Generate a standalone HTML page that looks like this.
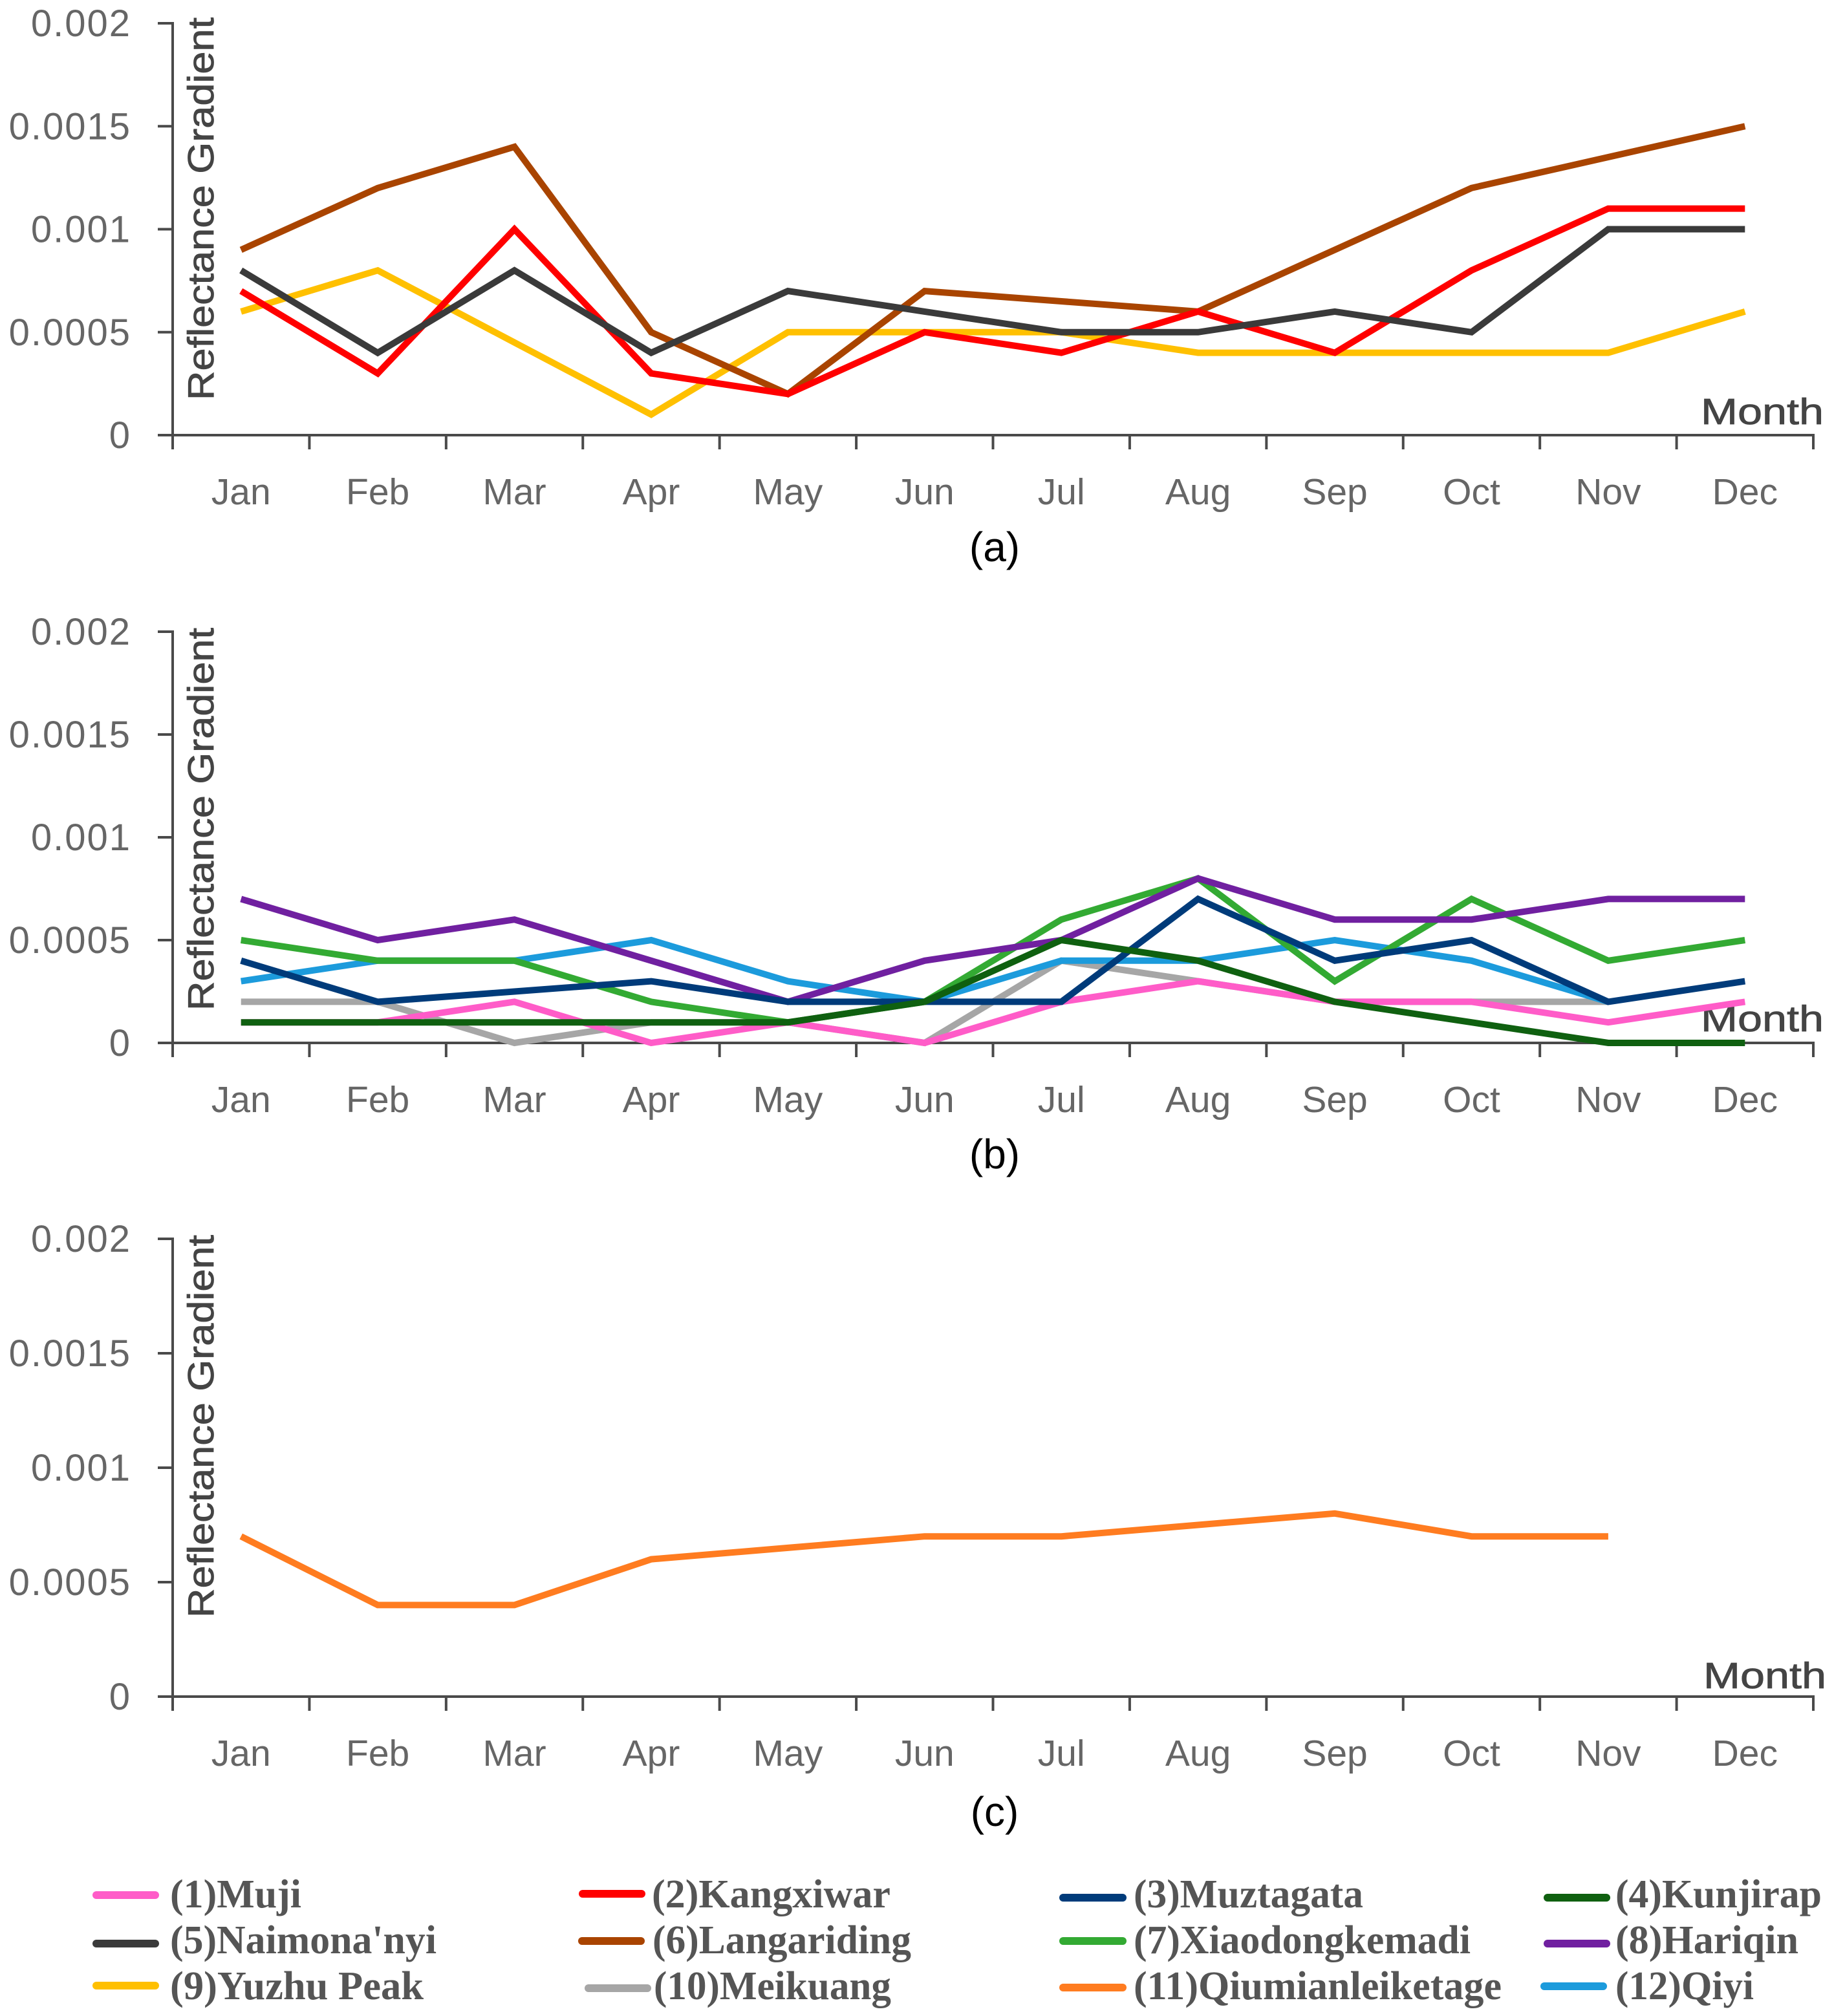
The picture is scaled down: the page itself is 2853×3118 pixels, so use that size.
<!DOCTYPE html>
<html lang="en">
<head>
<meta charset="utf-8">
<title>Monthly reflectance gradient</title>
<style>
html,body{margin:0;padding:0;background:#fff;}
svg{display:block;}
text{font-family:"Liberation Sans",sans-serif;}
.tick-label{font-size:58px;fill:#666;letter-spacing:2px;}
.cat-label{font-size:57px;fill:#666;text-anchor:middle;}
.axis-title{font-size:57px;fill:#444;stroke:#444;stroke-width:0.8;}
.caption{font-size:64px;fill:#000;text-anchor:middle;}
.axis{stroke:#4a4a4a;stroke-width:4;fill:none;}
.series{fill:none;stroke-width:10;stroke-linejoin:miter;stroke-linecap:butt;}
.legend-text{font-family:"Liberation Serif",serif;font-weight:bold;font-size:62px;fill:#555;}
.swatch{stroke-width:12;stroke-linecap:round;fill:none;}
.muji{stroke:#FF5CC8;}.kangxiwar{stroke:#FF0000;}.muztagata{stroke:#003B7A;}.kunjirap{stroke:#0F6010;}
.naimonanyi{stroke:#3A3A3A;}.langariding{stroke:#A94400;}.xiaodongkemadi{stroke:#33AA33;}.hariqin{stroke:#7020A0;}
.yuzhu{stroke:#FFC000;}.meikuang{stroke:#A6A6A6;}.qiumianleiketage{stroke:#FF7C20;}.qiyi{stroke:#1C9BDC;}
</style>
</head>
<body>
<svg id="chart" xmlns="http://www.w3.org/2000/svg" width="2853" height="3118" viewBox="0 0 2853 3118">
  <g>
    <g><line class="swatch muji" x1="149" x2="240" y1="2931" y2="2931"/><text class="legend-text" x="263" y="2950" textLength="203" lengthAdjust="spacingAndGlyphs">(1)Muji</text></g>
    <g><line class="swatch kangxiwar" x1="901" x2="992" y1="2929" y2="2929"/><text class="legend-text" x="1008" y="2950" textLength="369" lengthAdjust="spacingAndGlyphs">(2)Kangxiwar</text></g>
    <g><line class="swatch muztagata" x1="1644" x2="1736" y1="2935" y2="2935"/><text class="legend-text" x="1753" y="2950" textLength="355" lengthAdjust="spacingAndGlyphs">(3)Muztagata</text></g>
    <g><line class="swatch kunjirap" x1="2393" x2="2484" y1="2935" y2="2935"/><text class="legend-text" x="2498" y="2950" textLength="319" lengthAdjust="spacingAndGlyphs">(4)Kunjirap</text></g>

    <g><line class="swatch naimonanyi" x1="149" x2="240" y1="3006" y2="3006"/><text class="legend-text" x="263" y="3021" textLength="412" lengthAdjust="spacingAndGlyphs">(5)Naimona'nyi</text></g>
    <g><line class="swatch langariding" x1="900" x2="991" y1="3002" y2="3002"/><text class="legend-text" x="1009" y="3021" textLength="400" lengthAdjust="spacingAndGlyphs">(6)Langariding</text></g>
    <g><line class="swatch xiaodongkemadi" x1="1644" x2="1736" y1="3002" y2="3002"/><text class="legend-text" x="1753" y="3021" textLength="521" lengthAdjust="spacingAndGlyphs">(7)Xiaodongkemadi</text></g>
    <g><line class="swatch hariqin" x1="2393" x2="2484" y1="3006" y2="3006"/><text class="legend-text" x="2498" y="3021" textLength="283" lengthAdjust="spacingAndGlyphs">(8)Hariqin</text></g>

    <g><line class="swatch yuzhu" x1="149" x2="240" y1="3071" y2="3071"/><text class="legend-text" x="263" y="3092" textLength="392" lengthAdjust="spacingAndGlyphs">(9)Yuzhu Peak</text></g>
    <g><line class="swatch meikuang" x1="910" x2="1001" y1="3075" y2="3075"/><text class="legend-text" x="1011" y="3092" textLength="367" lengthAdjust="spacingAndGlyphs">(10)Meikuang</text></g>
    <g><line class="swatch qiumianleiketage" x1="1644" x2="1736" y1="3074" y2="3074"/><text class="legend-text" x="1753" y="3092" textLength="569" lengthAdjust="spacingAndGlyphs">(11)Qiumianleiketage</text></g>
    <g><line class="swatch qiyi" x1="2388" x2="2479" y1="3072" y2="3072"/><text class="legend-text" x="2498" y="3092" textLength="214" lengthAdjust="spacingAndGlyphs">(12)Qiyi</text></g>
  </g>
</svg>
<script>
const months = ['Jan','Feb','Mar','Apr','May','Jun','Jul','Aug','Sep','Oct','Nov','Dec'];
const yTicks = [0, 0.0005, 0.001, 0.0015, 0.002];
const yTickLabels = ['0', '0.0005', '0.001', '0.0015', '0.002'];
const yMax = 0.002;

// Panel (a)
const kangxiwar = [0.0007,0.0003,0.001,0.0003,0.0002,0.0005,0.0004,0.0006,0.0004,0.0008,0.0011,0.0011];
const naimonanyi = [0.0008,0.0004,0.0008,0.0004,0.0007,0.0006,0.0005,0.0005,0.0006,0.0005,0.001,0.001];
const langariding = [0.0009,0.0012,0.0014,0.0005,0.0002,0.0007,0.00065,0.0006,0.0009,0.0012,0.00135,0.0015];
const yuzhu = [0.0006,0.0008,0.00045,0.0001,0.0005,0.0005,0.0005,0.0004,0.0004,0.0004,0.0004,0.0006];

// Panel (b)
const meikuang = [0.0002,0.0002,0,0.0001,0.0001,0,0.0004,0.0003,0.0002,0.0002,0.0002,null];
const qiyi = [0.0003,0.0004,0.0004,0.0005,0.0003,0.0002,0.0004,0.0004,0.0005,0.0004,0.0002,null];
const muji = [0.0001,0.0001,0.0002,0,0.0001,0,0.0002,0.0003,0.0002,0.0002,0.0001,0.0002];
const xiaodongkemadi = [0.0005,0.0004,0.0004,0.0002,0.0001,0.0002,0.0006,0.0008,0.0003,0.0007,0.0004,0.0005];
const hariqin = [0.0007,0.0005,0.0006,0.0004,0.0002,0.0004,0.0005,0.0008,0.0006,0.0006,0.0007,0.0007];
const muztagata = [0.0004,0.0002,0.00025,0.0003,0.0002,0.0002,0.0002,0.0007,0.0004,0.0005,0.0002,0.0003];
const kunjirap = [0.0001,0.0001,0.0001,0.0001,0.0001,0.0002,0.0005,0.0004,0.0002,0.0001,0,0];

// Panel (c)
const qiumianleiketage = [0.0007,0.0004,0.0004,0.0006,0.00065,0.0007,0.0007,0.00075,0.0008,0.0007,0.0007,null];

const NS = 'http://www.w3.org/2000/svg';
const svg = document.getElementById('chart');
const plotLeft = 267;
const plotRight = 2804;

function xCat(i) { return plotLeft + (i + 0.5) * (plotRight - plotLeft) / months.length; }
function xEdge(i) { return plotLeft + i * (plotRight - plotLeft) / months.length; }

function el(tag, attrs, parent) {
  const node = document.createElementNS(NS, tag);
  for (const k in attrs) node.setAttribute(k, attrs[k]);
  parent.appendChild(node);
  return node;
}

function drawPanel(id, top, bottom, captionText, captionY, titleCenter, monthX, monthY) {
  const yScale = v => bottom - (v / yMax) * (bottom - top);
  const g = el('g', {}, svg);
  
  

  yTicks.forEach((t, i) => {
    const y = yScale(t);
    const tick = el('line', {class:'axis', x1:244, x2:plotLeft, y1:y, y2:y}, g);
    
    
    const lab = el('text', {class:'tick-label', x:203, y:y + 20, 'text-anchor':'end'}, g);
    lab.textContent = yTickLabels[i];
    
    
  });

  const yAxis = el('line', {class:'axis', x1:plotLeft, x2:plotLeft, y1:top - 2, y2:bottom + 22}, g);
  
  
  const xAxis = el('line', {class:'axis', x1:plotLeft, x2:plotRight + 2, y1:bottom, y2:bottom}, g);
  
  

  for (let i = 1; i <= months.length; i++) {
    const tick = el('line', {class:'axis', x1:xEdge(i), x2:xEdge(i), y1:bottom, y2:bottom + 22}, g);
    
    
  }
  months.forEach((m, i) => {
    const lab = el('text', {class:'cat-label', x:xCat(i), y:bottom + 107}, g);
    lab.textContent = m;
    
    
  });

  const yTitle = el('text', {class:'axis-title', x:0, y:0, 'text-anchor':'middle', textLength:592, lengthAdjust:'spacingAndGlyphs', transform:'translate(330 ' + titleCenter + ') rotate(-90)'}, g);
  yTitle.textContent = 'Reflectance Gradient';
  
  

  const xTitle = el('text', {class:'axis-title', x:monthX, y:monthY, textLength:190, lengthAdjust:'spacingAndGlyphs'}, g);
  xTitle.textContent = 'Month';
  
  

  const cap = el('text', {class:'caption', x:1538, y:captionY}, g);
  cap.textContent = captionText;
  
  

  return function drawSeries(values, seriesName, cls) {
    const pts = [];
    values.forEach((v, i) => { if (v !== null) pts.push(xCat(i).toFixed(1) + ',' + yScale(v).toFixed(1)); });
    const line = el('polyline', {class:'series ' + cls, points:pts.join(' ')}, g);
    
    
  };
}

const drawA = drawPanel('a', 36, 673, '(a)', 868, 323, 2630, 656);
drawA(yuzhu, 'yuzhu-peak', 'yuzhu');
drawA(langariding, 'langariding', 'langariding');
drawA(kangxiwar, 'kangxiwar', 'kangxiwar');
drawA(naimonanyi, 'naimonanyi', 'naimonanyi');

const drawB = drawPanel('b', 977, 1613, '(b)', 1807, 1267, 2630, 1595);
drawB(meikuang, 'meikuang', 'meikuang');
drawB(qiyi, 'qiyi', 'qiyi');
drawB(muji, 'muji', 'muji');
drawB(xiaodongkemadi, 'xiaodongkemadi', 'xiaodongkemadi');
drawB(hariqin, 'hariqin', 'hariqin');
drawB(muztagata, 'muztagata', 'muztagata');
drawB(kunjirap, 'kunjirap', 'kunjirap');

const drawC = drawPanel('c', 1916, 2624, '(c)', 2824, 2206, 2634, 2611);
drawC(qiumianleiketage, 'qiumianleiketage', 'qiumianleiketage');
</script>
</body>
</html>
